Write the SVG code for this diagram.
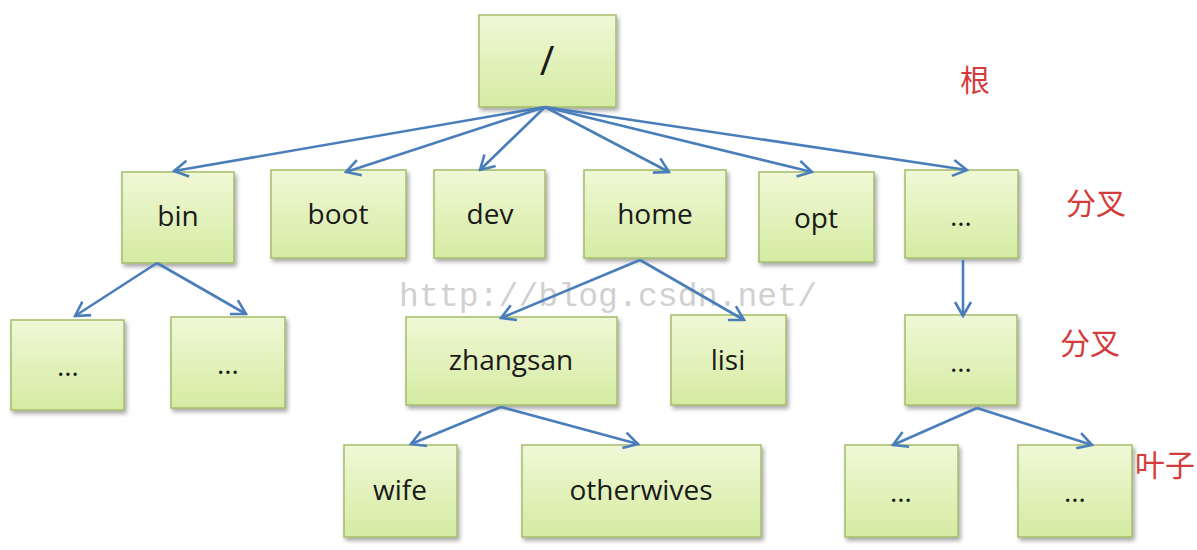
<svg xmlns="http://www.w3.org/2000/svg" width="1197" height="550" viewBox="0 0 1197 550">
<defs>
<linearGradient id="g" x1="0" y1="0" x2="0" y2="1">
<stop offset="0" stop-color="#f0f8d6"/>
<stop offset="1" stop-color="#d5eba2"/>
</linearGradient>
<filter id="sh" x="-10%" y="-10%" width="130%" height="140%">
<feDropShadow dx="2" dy="3" stdDeviation="2" flood-color="#000" flood-opacity="0.35"/>
</filter>
<marker id="ah" viewBox="0 0 20 20" refX="18" refY="10" markerWidth="20" markerHeight="20" markerUnits="userSpaceOnUse" orient="auto">
<polyline points="4,2 18,10 4,18" fill="none" stroke="#4a7ebb" stroke-width="2.6"/>
</marker>
</defs>
<style>
.box{fill:url(#g);stroke:#a3bd6a;stroke-width:1.5;filter:url(#sh)}
.t{font-family:"Open Sans","Noto Sans",sans-serif;font-size:28px;fill:#1a1a1a;text-anchor:middle}
.lab{font-family:"Noto Sans CJK SC","Noto Sans",sans-serif;font-size:30px;fill:#d43c3c}
.c line{stroke:#4a7ebb;stroke-width:2.6;marker-end:url(#ah)}
</style>
<rect width="1197" height="550" fill="#fff"/>
<text x="399" y="306" font-family="Liberation Mono, monospace" font-size="33" fill="#c4c4c4" fill-opacity="0.8" textLength="418" lengthAdjust="spacing">http://blog.csdn.net/</text>
<g id="root"><rect class="box" x="479" y="15" width="137" height="92"/><text class="t" x="547" y="75" style="font-size:40px">/</text></g>
<g id="bin"><rect class="box" x="122" y="172" width="112" height="91"/><text class="t" x="178" y="226">bin</text></g>
<g id="boot"><rect class="box" x="271" y="170" width="135" height="88"/><text class="t" x="338" y="224">boot</text></g>
<g id="dev"><rect class="box" x="434" y="170" width="111" height="88"/><text class="t" x="490" y="224">dev</text></g>
<g id="home"><rect class="box" x="584" y="170" width="142" height="88"/><text class="t" x="655" y="224">home</text></g>
<g id="opt"><rect class="box" x="759" y="172" width="115" height="90"/><text class="t" x="816" y="228">opt</text></g>
<g id="more1"><rect class="box" x="905" y="170" width="113" height="88"/><text class="t" x="961" y="226">…</text></g>
<g id="binsub1"><rect class="box" x="11" y="320" width="113" height="90"/><text class="t" x="68" y="376">…</text></g>
<g id="binsub2"><rect class="box" x="171" y="317" width="114" height="91"/><text class="t" x="228" y="374">…</text></g>
<g id="zhangsan"><rect class="box" x="406" y="317" width="211" height="88"/><text class="t" x="511" y="370">zhangsan</text></g>
<g id="lisi"><rect class="box" x="671" y="315" width="115" height="90"/><text class="t" x="728" y="370">lisi</text></g>
<g id="more2"><rect class="box" x="905" y="315" width="112" height="90"/><text class="t" x="961" y="372">…</text></g>
<g id="wife"><rect class="box" x="344" y="445" width="113" height="92"/><text class="t" x="400" y="500">wife</text></g>
<g id="otherwives"><rect class="box" x="522" y="445" width="239" height="92"/><text class="t" x="641" y="500">otherwives</text></g>
<g id="more3"><rect class="box" x="845" y="445" width="113" height="92"/><text class="t" x="901" y="502">…</text></g>
<g id="more4"><rect class="box" x="1018" y="445" width="114" height="92"/><text class="t" x="1075" y="502">…</text></g>
<g id="connectors" class="c">
<line x1="545" y1="107" x2="174" y2="171"/>
<line x1="545" y1="107" x2="346" y2="172"/>
<line x1="545" y1="107" x2="480" y2="170"/>
<line x1="545" y1="107" x2="669" y2="172"/>
<line x1="545" y1="107" x2="812" y2="172"/>
<line x1="545" y1="107" x2="967" y2="170"/>
<line x1="157" y1="263" x2="75" y2="316"/>
<line x1="157" y1="263" x2="246" y2="314"/>
<line x1="640" y1="260" x2="501" y2="318"/>
<line x1="640" y1="260" x2="744" y2="320"/>
<line x1="963" y1="260" x2="963" y2="316"/>
<line x1="501" y1="407" x2="411" y2="444"/>
<line x1="501" y1="407" x2="638" y2="444"/>
<line x1="977" y1="408" x2="893" y2="445"/>
<line x1="977" y1="408" x2="1092" y2="445"/>
</g>
<g id="labels">
<text class="lab" x="960" y="91">根</text>
<text class="lab" x="1066" y="214">分叉</text>
<text class="lab" x="1060" y="354">分叉</text>
<text class="lab" x="1135" y="476">叶子</text>
</g>
</svg>
